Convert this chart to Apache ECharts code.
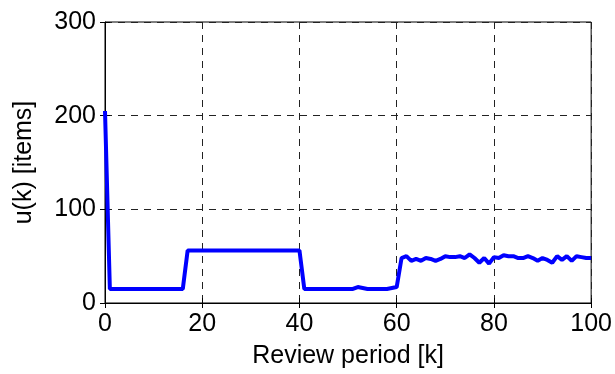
<!DOCTYPE html>
<html>
<head>
<meta charset="utf-8">
<script src="https://cdn.jsdelivr.net/npm/echarts@6/dist/echarts.min.js"></script>
<style>
	html, body { margin: 0; padding: 0; background: #fff; }
	#chart { width: 615px; height: 374px; }
</style>
</head>
<body>
<div id="chart"></div>
<script>
// review period k = 0..100
var periods = [];
for (var i = 0; i <= 100; i++) { periods.push(i); }

// order quantity u(k)
var orders = [
	205, 15, 15, 15, 15, 15, 15, 15, 15, 15,
	15, 15, 15, 15, 15, 15, 15, 56, 56, 56,
	56, 56, 56, 56, 56, 56, 56, 56, 56, 56,
	56, 56, 56, 56, 56, 56, 56, 56, 56, 56,
	56, 15, 15, 15, 15, 15, 15, 15, 15, 15,
	15, 15, 17, 16, 15, 15, 15, 15, 15, 16,
	17, 48, 50, 45, 47, 45, 48, 47, 45, 47,
	50, 49, 49, 50, 48, 52, 48, 43, 48, 42,
	49, 48, 51, 50, 50, 48, 48, 50, 48, 45,
	48, 46, 43, 50, 46, 50, 45, 50, 49, 48,
	48
];

var xTicks = [0, 20, 40, 60, 80, 100];
var yTicks = [0, 100, 200, 300];

var chart = {
	/**
	 * 显示图表
	 */
	show: function () {
		var myChart = echarts.init(document.getElementById('chart'));
		var data = [];
		for (var i = 0; i < periods.length; i++) {
			data.push([periods[i], orders[i]]);
		}
		var font = 'Liberation Sans, Arial, Helvetica, sans-serif';
		var gridDash = { show: true, lineStyle: { color: '#222', type: [7, 6], width: 1 } };
		var option = {
			backgroundColor: '#fff',
			animation: false,
			grid: {
				left: 105, right: 23, top: 22, bottom: 71,
				show: true, borderColor: '#000', borderWidth: 1, backgroundColor: '#fff'
			},
			xAxis: [{
				type: 'value',
				min: xTicks[0], max: xTicks[xTicks.length - 1], interval: 20,
				name: 'Review period [k]',
				nameLocation: 'middle',
				nameGap: 41,
				nameTextStyle: { fontFamily: font, fontSize: 25, color: '#000' },
				axisLine: { show: true, onZero: false, lineStyle: { color: '#000', width: 1 } },
				axisTick: { show: true, inside: true, length: 5, lineStyle: { color: '#000' } },
				axisLabel: { fontFamily: font, fontSize: 25, color: '#000', margin: 9 },
				splitLine: gridDash
			}, {
				type: 'value', position: 'top',
				min: xTicks[0], max: xTicks[xTicks.length - 1], interval: 20,
				axisLine: { show: false },
				axisTick: { show: true, inside: true, length: 5, lineStyle: { color: '#000' } },
				axisLabel: { show: false },
				splitLine: { show: false }
			}],
			yAxis: [{
				type: 'value',
				min: yTicks[0], max: yTicks[yTicks.length - 1], interval: 100,
				name: 'u(k) [items]',
				nameLocation: 'middle',
				nameGap: 68,
				nameTextStyle: { fontFamily: font, fontSize: 25, color: '#000' },
				axisLine: { show: true, onZero: false, lineStyle: { color: '#000', width: 1 } },
				axisTick: { show: true, inside: true, length: 5, lineStyle: { color: '#000' } },
				axisLabel: { fontFamily: font, fontSize: 25, color: '#000', margin: 9 },
				splitLine: gridDash
			}, {
				type: 'value', position: 'right',
				min: yTicks[0], max: yTicks[yTicks.length - 1], interval: 100,
				axisLine: { show: false },
				axisTick: { show: true, inside: true, length: 5, lineStyle: { color: '#000' } },
				axisLabel: { show: false },
				splitLine: { show: false }
			}],
			series: [{
				name: 'u(k)',
				type: 'line',
				data: data,
				showSymbol: false,
				symbol: 'none',
				lineStyle: { color: '#0000ff', width: 4 },
				itemStyle: { color: '#0000ff' }
			}]
		};
		myChart.setOption(option);
	}
};

chart.show();
</script>
</body>
</html>
